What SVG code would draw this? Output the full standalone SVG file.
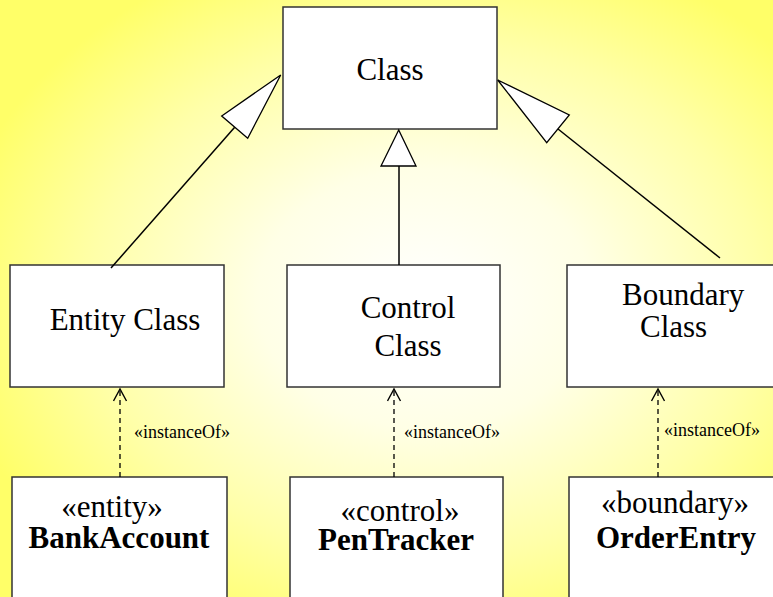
<svg xmlns="http://www.w3.org/2000/svg" width="773" height="597" viewBox="0 0 773 597">
  <defs>
    <radialGradient id="bg" cx="0.55" cy="0.5" r="0.62" fx="0.55" fy="0.5">
      <stop offset="0" stop-color="#FFFFFF"/>
      <stop offset="0.35" stop-color="#FFFFE6"/>
      <stop offset="0.7" stop-color="#FFFFA8"/>
      <stop offset="1" stop-color="#FFFF68"/>
    </radialGradient>
    <marker id="open" markerWidth="16" markerHeight="16" refX="13" refY="7" orient="auto" markerUnits="userSpaceOnUse">
      <path d="M1,0.5 L13,7 L1,13.5" fill="none" stroke="#000" stroke-width="1.4"/>
    </marker>
  </defs>
  <style>
    .box { fill: #FFFFFF; stroke: #333333; stroke-width: 1.5; }
    .t { font-family: "Liberation Serif", "Times New Roman", serif; font-size: 31px; fill: #000; }
    .b { font-weight: bold; }
    .lbl { font-family: "Liberation Serif", "Times New Roman", serif; font-size: 18px; fill: #000; }
    .gen { stroke: #000; stroke-width: 1.5; fill: none; }
    .head { fill: #FFFFFF; stroke: #000; stroke-width: 1.3; }
    .dep { stroke: #000; stroke-width: 1.3; fill: none; stroke-dasharray: 5 4; marker-end: url(#open); }
  </style>

  <rect width="773" height="597" fill="url(#bg)"/>

  <g id="class">
    <rect class="box" x="283" y="7" width="214" height="122"/>
    <text class="t" x="390" y="80" text-anchor="middle">Class</text>
  </g>

  <g id="entity-class">
    <rect class="box" x="10" y="265" width="214" height="122"/>
    <text class="t" x="125" y="330" text-anchor="middle">Entity Class</text>
  </g>

  <g id="control-class">
    <rect class="box" x="287" y="265" width="213" height="122"/>
    <text class="t" x="408" y="318" text-anchor="middle">Control</text>
    <text class="t" x="408" y="356" text-anchor="middle">Class</text>
  </g>

  <g id="boundary-class">
    <rect class="box" x="567" y="265" width="220" height="122"/>
    <text class="t" x="622" y="305">Boundary</text>
    <text class="t" x="640" y="337">Class</text>
  </g>

  <g id="bank-account">
    <rect class="box" x="12" y="477" width="215" height="140"/>
    <text class="t" x="112" y="517" text-anchor="middle">«entity»</text>
    <text class="t b" x="119" y="548" text-anchor="middle">BankAccount</text>
  </g>

  <g id="pen-tracker">
    <rect class="box" x="290" y="477" width="213" height="140"/>
    <text class="t" x="400" y="521" text-anchor="middle">«control»</text>
    <text class="t b" x="396" y="550" text-anchor="middle">PenTracker</text>
  </g>

  <g id="order-entry">
    <rect class="box" x="569" y="477" width="220" height="140"/>
    <text class="t" x="675" y="513" text-anchor="middle">«boundary»</text>
    <text class="t b" x="676" y="548" text-anchor="middle">OrderEntry</text>
  </g>

  <g id="connectors">
    <!-- generalization: subclasses to Class -->
    <line class="gen" x1="111" y1="268" x2="234.7" y2="127.2"/>
    <polygon class="head" points="280.7,75 221.7,116 247.7,138.3"/>
    <line class="gen" x1="399" y1="265" x2="399" y2="166"/>
    <polygon class="head" points="398.7,130 381,166 416,166"/>
    <line class="gen" x1="720" y1="258" x2="558" y2="129"/>
    <polygon class="head" points="497.7,80 569.3,115 546.7,142.7"/>

    <!-- instance-of dependencies -->
    <line class="dep" x1="120" y1="477" x2="120" y2="389"/>
    <text class="lbl" x="134" y="438">«instanceOf»</text>
    <line class="dep" x1="394" y1="477" x2="394" y2="389"/>
    <text class="lbl" x="404" y="438">«instanceOf»</text>
    <line class="dep" x1="658" y1="477" x2="658" y2="389"/>
    <text class="lbl" x="664" y="436">«instanceOf»</text>
  </g>
</svg>
